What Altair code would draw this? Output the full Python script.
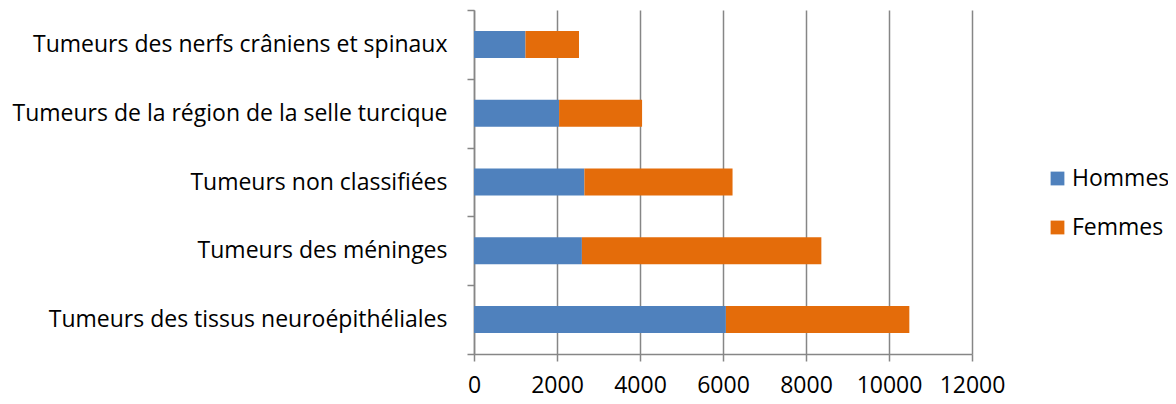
import altair as alt
import pandas as pd

categories = [
    "Tumeurs des nerfs crâniens et spinaux",
    "Tumeurs de la région de la selle turcique",
    "Tumeurs non classifiées",
    "Tumeurs des méninges",
    "Tumeurs des tissus neuroépithéliales",
]
hommes = [1240, 2050, 2660, 2600, 6070]
femmes = [1290, 2000, 3570, 5770, 4420]
series = ["Hommes", "Femmes"]
x_ticks = [0, 2000, 4000, 6000, 8000, 10000, 12000]

rows = []
for c, h, f in zip(categories, hommes, femmes):
    rows.append({"cat": c, "sexe": "Hommes", "val": h, "ord": 0})
    rows.append({"cat": c, "sexe": "Femmes", "val": f, "ord": 1})
df = pd.DataFrame(rows)

FONT = "Open Sans"
FS = 23
GRID = "#868686"

chart = alt.Chart(df).mark_bar(size=27).encode(
    y=alt.Y("cat:N", sort=categories, title=None,
            scale=alt.Scale(paddingInner=0, paddingOuter=0),
            axis=alt.Axis(tickBand="extent", domainColor=GRID, tickColor=GRID,
                          domainWidth=1.5, tickWidth=1.5, tickSize=7,
                          labelPadding=20, labelFontSize=FS, labelFont=FONT,
                          labelColor="#000000", labelLimit=600, grid=False)),
    x=alt.X("val:Q", stack="zero", title=None,
            scale=alt.Scale(domain=[0, 12000], nice=False),
            axis=alt.Axis(values=x_ticks, grid=True, gridColor=GRID, gridWidth=1.5,
                          domainColor=GRID, tickColor=GRID, domainWidth=1.5,
                          tickWidth=1.5, tickSize=7, labelPadding=13,
                          labelFontSize=FS, labelFont=FONT, labelColor="#000000",
                          labelFlush=False, format="d")),
    color=alt.Color("sexe:N", sort=series,
                    scale=alt.Scale(domain=series, range=["#4F81BD", "#E46C0A"]),
                    legend=alt.Legend(title=None, orient="none", legendX=572, legendY=157,
                                      symbolType="square", symbolSize=190,
                                      symbolStrokeWidth=0, labelFontSize=FS,
                                      labelFont=FONT, labelColor="#000000",
                                      rowPadding=25, padding=0, labelOffset=3)),
    order=alt.Order("ord:Q"),
).properties(
    width=498, height=344,
    autosize=alt.AutoSizeParams(type="none"),
    padding={"left": 466, "top": 2, "right": 196, "bottom": 50},
).configure_view(stroke=None)

chart.save("out.html", embed_options={"renderer": "svg", "actions": False})
